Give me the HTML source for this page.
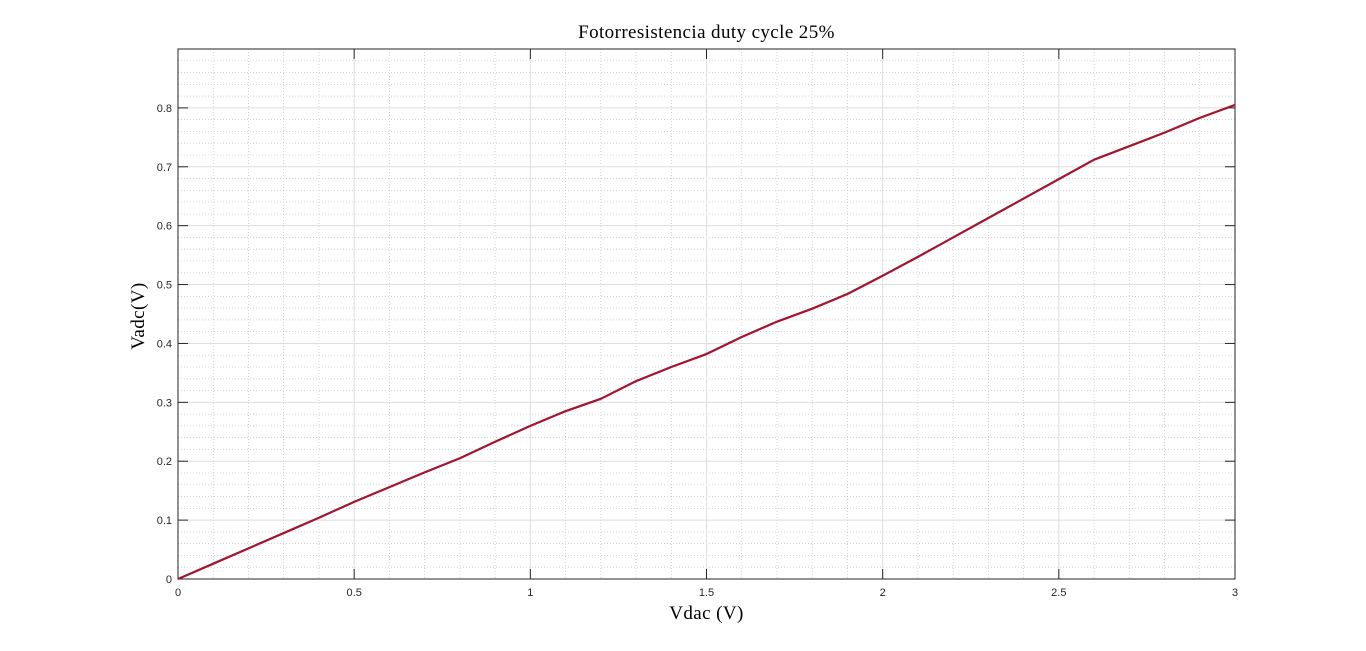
<!DOCTYPE html>
<html><head><meta charset="utf-8"><style>
html,body{margin:0;padding:0;background:#fff;width:1366px;height:651px;overflow:hidden}
svg{display:block}
</style></head><body>
<svg id="chart" width="1366" height="651" xmlns="http://www.w3.org/2000/svg"></svg>
<script>
const xValues=[0,0.1,0.2,0.3,0.4,0.5,0.6,0.7,0.8,0.9,1.0,1.1,1.2,1.3,1.4,1.5,1.6,1.7,1.8,1.9,2.0,2.1,2.2,2.3,2.4,2.5,2.6,2.7,2.8,2.9,3.0];
const yValues=[0,0.026,0.052,0.078,0.104,0.131,0.156,0.181,0.205,0.233,0.26,0.285,0.306,0.336,0.36,0.382,0.411,0.437,0.459,0.484,0.515,0.547,0.580,0.613,0.646,0.679,0.712,0.735,0.758,0.783,0.805];
const xTicks=[0,0.5,1,1.5,2,2.5,3];
const yTicks=[0,0.1,0.2,0.3,0.4,0.5,0.6,0.7,0.8];
const L=178,R=1235,T=49,B=579,XMAX=3,YMAX=0.9;
const sx=v=>L+(R-L)*v/XMAX, sy=v=>B-(B-T)*v/YMAX;
const svg=document.getElementById('chart');
const NS='http://www.w3.org/2000/svg';
function mk(tag,attrs,parent){const e=document.createElementNS(NS,tag);for(const k in attrs)e.setAttribute(k,attrs[k]);(parent||svg).appendChild(e);return e;}
const bg=mk('rect',{x:L,y:T,width:R-L,height:B-T,fill:'#fff'});


const grid=mk('g',{});


for(let i=1;i<30;i++){if(i%5===0)continue;const x=sx(i*0.1);mk('line',{x1:x,x2:x,y1:T,y2:B,stroke:'#bbb','stroke-width':0.6,'stroke-dasharray':'1,2'},grid);}
for(let i=1;i<45;i++){if(i%5===0)continue;const y=sy(i*0.02);mk('line',{x1:L,x2:R,y1:y,y2:y,stroke:'#bbb','stroke-width':0.6,'stroke-dasharray':'1,2'},grid);}
xTicks.forEach(v=>{const x=sx(v);mk('line',{x1:x,x2:x,y1:T,y2:B,stroke:'#dedede','stroke-width':1},grid);});
yTicks.forEach(v=>{const y=sy(v);mk('line',{x1:L,x2:R,y1:y,y2:y,stroke:'#dedede','stroke-width':1},grid);});
const ax=mk('g',{});


mk('rect',{x:L,y:T,width:R-L,height:B-T,fill:'none',stroke:'#262626','stroke-width':1},ax);
xTicks.forEach(v=>{const x=sx(v);mk('line',{x1:x,x2:x,y1:B,y2:B-10,stroke:'#262626'},ax);mk('line',{x1:x,x2:x,y1:T,y2:T+10,stroke:'#262626'},ax);
const t=mk('text',{x:x,y:B+17,'text-anchor':'middle','font-family':'Liberation Sans, sans-serif','font-size':11,fill:'#262626'},ax);t.textContent=String(v);

});
yTicks.forEach(v=>{const y=sy(v);mk('line',{x1:L,x2:L+10,y1:y,y2:y,stroke:'#262626'},ax);mk('line',{x1:R,x2:R-10,y1:y,y2:y,stroke:'#262626'},ax);
const t=mk('text',{x:L-6,y:y+4,'text-anchor':'end','font-family':'Liberation Sans, sans-serif','font-size':11,fill:'#262626'},ax);t.textContent=String(v);

});
const line=mk('polyline',{points:xValues.map((x,i)=>sx(x)+','+sy(yValues[i])).join(' '),fill:'none',stroke:'#A2142F','stroke-width':2.2,'stroke-linejoin':'round'});


const title=mk('text',{x:(L+R)/2,y:38,'text-anchor':'middle','font-family':'Liberation Serif, serif','font-size':19,'letter-spacing':0.4,fill:'#000'});
title.textContent='Fotorresistencia duty cycle 25%';


const xl=mk('text',{x:(L+R)/2,y:619,'text-anchor':'middle','font-family':'Liberation Serif, serif','font-size':19,'letter-spacing':0.4,fill:'#000'});
xl.textContent='Vdac (V)';


const yl=mk('text',{x:0,y:0,'text-anchor':'middle','font-family':'Liberation Serif, serif','font-size':19,'letter-spacing':0.4,fill:'#000',transform:'translate(144,316) rotate(-90)'});
yl.textContent='Vadc(V)';


</script>
</body></html>
